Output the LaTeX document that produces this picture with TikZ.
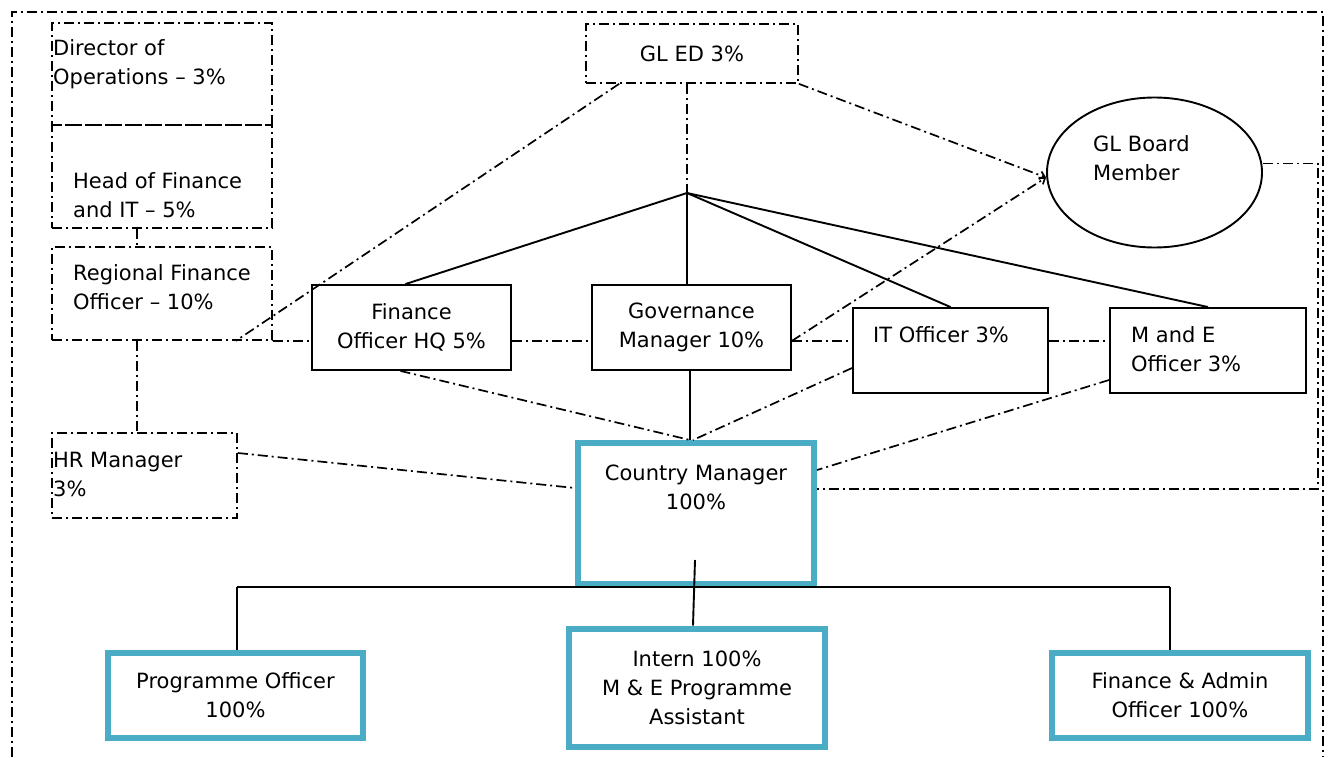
\documentclass[tikz,border=0pt]{standalone}
\usepackage{fontspec}
\setmainfont{DejaVu Sans}
\usepackage{xcolor}
\usetikzlibrary{shapes.geometric, arrows.meta, calc}
\definecolor{BoxCyan}{HTML}{4BACC6}

\begin{document}
\begin{tikzpicture}[x=1pt, y=-1pt,
    font=\fontsize{21}{29}\selectfont,
    dd/.style={line width=1.7pt, dash pattern=on 10pt off 4pt on 2pt off 4pt},
    ddbox/.style={draw, dd, rectangle, inner sep=0pt, align=center},
    linebox/.style={draw, line width=1.9pt, rectangle, inner sep=0pt, align=center},
    staffbox/.style={draw=BoxCyan, line width=6pt, rectangle, inner sep=0pt, align=center},
    link/.style={line width=1.9pt},
    tip/.style={-{Straight Barb[length=5pt,width=8pt]}},
    txt/.style={inner sep=0pt, align=left, anchor=west}]
    \useasboundingbox (0,0) rectangle (1329,757);

    % Outer frame
    \draw[dd] (12,757) -- (12,12) -- (1323,12) -- (1323,757);

    % Head office (dash-dot)
    \node[ddbox, minimum width=220pt, minimum height=102pt] (dirops) at (162,74) {};
    \node[ddbox, minimum width=220pt, minimum height=103pt] (headfin) at (162,176.5) {};
    \node[ddbox, minimum width=220pt, minimum height=93pt] (regfin) at (162,293.5) {};
    \node[ddbox, minimum width=185pt, minimum height=85pt] (hrmgr) at (144.5,475.5) {};
    \node[ddbox, minimum width=212pt, minimum height=59pt] (gled) at (692,53.5) {GL ED 3\%};

    \node[txt] (dirtxt) at (53,64.5) {Director of\\Operations -- 3\%};
    \node[txt] (headtxt) at (73,195.5) {Head of Finance\\and IT -- 5\%};
    \node[txt] (regtxt) at (73,287.5) {Regional Finance\\Officer -- 10\%};
    \node[txt] (hrtxt) at (53,474.5) {HR Manager\\3\%};

    % Board
    \node[draw, ellipse, line width=1.9pt, minimum width=215pt, minimum height=150pt] (board) at (1154.5,172.5) {};
    \node[txt] (boardtxt) at (1093,158) {GL Board\\Member};

    % Support staff
    \node[linebox, minimum width=199pt, minimum height=85pt] (finhq) at (411.5,327.5) {Finance\\Officer HQ 5\%};
    \node[linebox, minimum width=199pt, minimum height=85pt] (govmgr) at (691.5,327.5) {Governance\\Manager 10\%};
    \node[linebox, minimum width=195pt, minimum height=85pt] (itoff) at (950.5,350.5) {};
    \node[linebox, minimum width=196pt, minimum height=85pt] (meoff) at (1208,350.5) {};
    \node[txt] (ittxt) at (873,335) {IT Officer 3\%};
    \node[txt] (metxt) at (1131,349) {M and E\\Officer 3\%};

    % Country office
    \node[staffbox, minimum width=236pt, minimum height=141pt] (ctry) at (696,513.5) {};
    \node[inner sep=0pt, align=center] (ctrytxt) at (696,487) {Country Manager\\100\%};
    \node[staffbox, minimum width=255pt, minimum height=85pt] (prog) at (235.5,695) {Programme Officer\\100\%};
    \node[staffbox, minimum width=256pt, minimum height=118pt] (intern) at (697,687.5) {Intern 100\%\\M \& E Programme\\Assistant};
    \node[staffbox, minimum width=256pt, minimum height=85pt] (finadm) at (1180,695) {Finance \& Admin\\Officer 100\%};

    \coordinate (hub) at (687,193);
    \coordinate (loop) at (1318,489);
    \coordinate (busL) at (237,587);
    \coordinate (busR) at (1170,587);

    % Dash-dot links
    \draw[dd] ([xshift=-25pt]headfin.south) -- ([xshift=-25pt]regfin.north);
    \draw[dd] ([xshift=-25pt]regfin.south) -- ([xshift=-25pt]regfin.south |- hrmgr.north);
    \draw[dd] ([xshift=34pt]gled.south west) -- ([xshift=-37pt]regfin.south east);
    \draw[dd] (regfin.south east) -- (regfin.south east -| finhq.west);
    \draw[dd] (regfin.south east -| finhq.east) -- (regfin.south east -| govmgr.west);
    \draw[dd] (regfin.south east -| govmgr.east) -- (regfin.south east -| itoff.west);
    \draw[dd] (regfin.south east -| itoff.east) -- (regfin.south east -| meoff.west);
    \draw[dd] (gled.south -| hub) -- (hub);
    \draw[dd, tip] (gled.south east) -- ([yshift=-5pt]board.west);
    \draw[dd, tip] (regfin.south east -| govmgr.east) -- ([yshift=-5pt]board.west);
    \draw[dd] ([xshift=-11pt]finhq.south) -- ([xshift=-6pt]ctry.north);
    \draw[dd] ([yshift=-17.5pt]itoff.west) -- ([xshift=-3pt]ctry.north);
    \draw[dd] ([yshift=-29.5pt]meoff.west) -- ([yshift=43.5pt]ctry.east);
    \draw[dd] ([yshift=22.5pt]hrmgr.east) -- ([yshift=25.5pt]ctry.west);
    \draw[dd] ([yshift=9pt]board.east) -| (loop) -- (loop -| ctry.east);

    % Solid links
    \draw[link] (hub) -- ([xshift=-6pt]finhq.north);
    \draw[link] (hub) -- (hub |- govmgr.north);
    \draw[link] (hub) -- (itoff.north);
    \draw[link] (hub) -- (meoff.north);
    \draw[link] ([xshift=-1.5pt]govmgr.south) -- ([xshift=-6pt]ctry.north);
    \draw[link] (busL) -- (busR);
    \draw[link] (busL) -- (busL |- prog.north);
    \draw[link] (busR) -- (busR |- finadm.north);
    \draw[link] ([xshift=-1pt,yshift=27pt]ctry.south) -- ([xshift=-4pt]intern.north);
\end{tikzpicture}
\end{document}
